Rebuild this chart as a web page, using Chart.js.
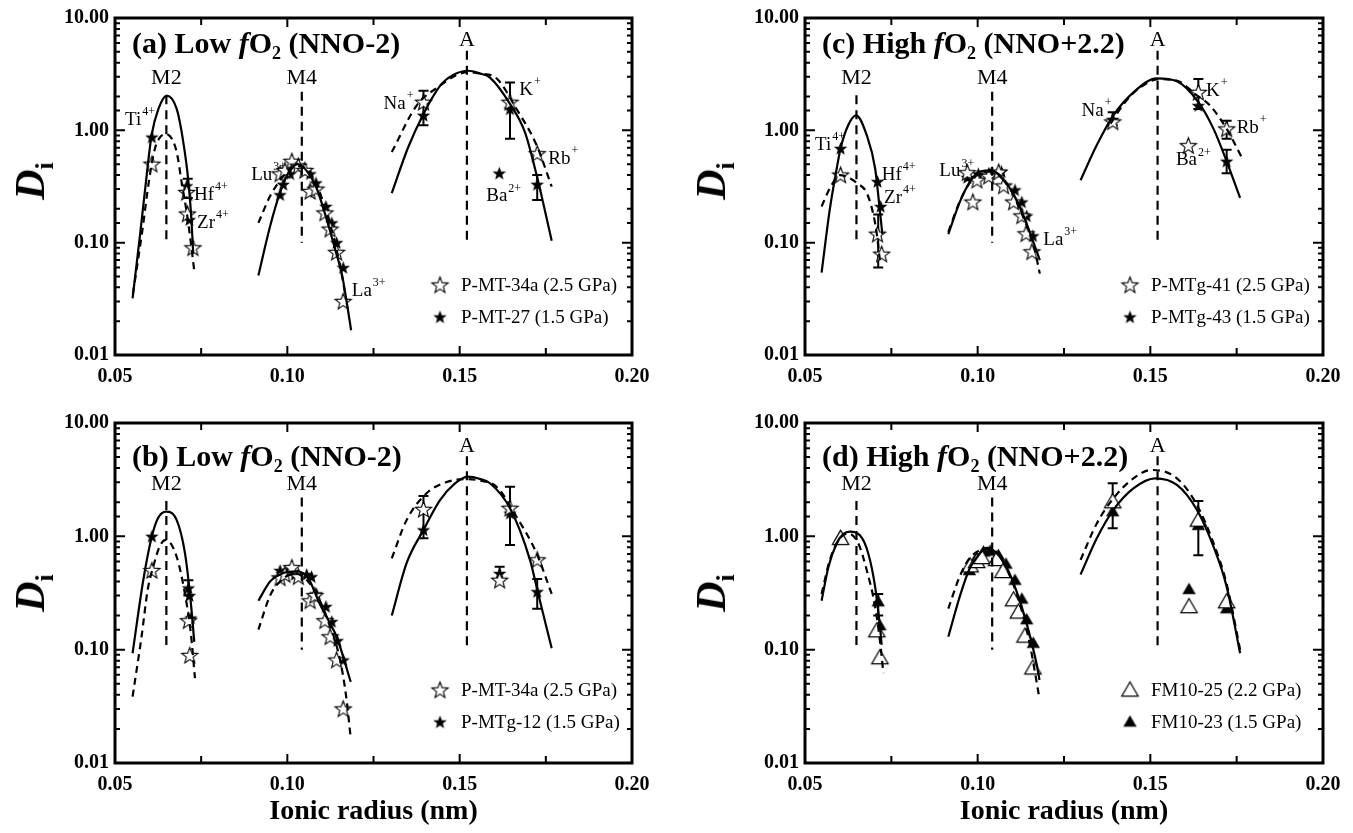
<!DOCTYPE html>
<html>
<head>
<meta charset="utf-8">
<script src="https://cdn.jsdelivr.net/npm/chart.js@4.4.1/dist/chart.umd.min.js"></script>
<style>
    body { margin: 0; background: #fff; width: 1353px; height: 833px; position: relative; overflow: hidden; font-family: 'Liberation Serif', 'Times New Roman', serif; color: #000; }
    canvas { position: absolute; }
    .ptitle { position: absolute; font-weight: bold; font-size: 30px; line-height: 30px; white-space: nowrap; }
    .ptitle .sb { font-size: 18px; position: relative; top: 6px; }
    .ytitle { position: absolute; font-weight: bold; font-style: italic; font-size: 42px; line-height: 42px; white-space: nowrap; transform: translate(-50%, -50%) rotate(-90deg); }
    .ytitle .sb { font-size: 26px; font-style: normal; position: relative; top: 9px; }
</style>
</head>
<body>
<canvas id="chart-a" width="676" height="400" style="left:0;top:0"></canvas>
<canvas id="chart-c" width="677" height="400" style="left:676px;top:0"></canvas>
<canvas id="chart-b" width="676" height="433" style="left:0;top:400px"></canvas>
<canvas id="chart-d" width="677" height="433" style="left:676px;top:400px"></canvas>

<div class="ptitle" style="left:132px;top:28px">(a) Low <i>f</i>O<span class="sb">2</span> (NNO-2)</div>
<div class="ptitle" style="left:132px;top:441px">(b) Low <i>f</i>O<span class="sb">2</span> (NNO-2)</div>
<div class="ptitle" style="left:822px;top:28px">(c) High <i>f</i>O<span class="sb">2</span> (NNO+2.2)</div>
<div class="ptitle" style="left:822px;top:441px">(d) High <i>f</i>O<span class="sb">2</span> (NNO+2.2)</div>

<div class="ytitle" style="left:33px;top:181px">D<span class="sb">i</span></div>
<div class="ytitle" style="left:33px;top:593px">D<span class="sb">i</span></div>
<div class="ytitle" style="left:714px;top:181px">D<span class="sb">i</span></div>
<div class="ytitle" style="left:714px;top:593px">D<span class="sb">i</span></div>

<script>
// --- AXES ---
const xTickLabels = ['0.05', '0.10', '0.15', '0.20'];
const yTickLabels = ['0.01', '0.10', '1.00', '10.00'];
const xTitle = 'Ionic radius (nm)';

// crystal sites: name, radius, dashed marker from top value down to 0.1
const siteNames = ['M2', 'M4', 'A'];
const siteR = [0.0649, 0.1042, 0.1521];
const siteTop = [2.05, 2.2, 5.1];
const siteBottom = 0.1;
const siteLabelY = [2.9, 2.9, 6.3];

// --- PANEL (a) Low fO2, P-MT-34a / P-MT-27 ---
const aNames = ['P-MT-34a (2.5 GPa)', 'P-MT-27 (1.5 GPa)'];
const aM2Solid = [[0.0551,0.032],[0.0573,0.12],[0.0592,0.40],[0.0606,0.90],[0.0626,1.55],[0.0650,2.04],[0.0679,1.55],[0.0698,0.79],[0.0713,0.35],[0.0722,0.155],[0.0727,0.079]];
const aM2Dash = [[0.0552,0.035],[0.0578,0.12],[0.0600,0.38],[0.0616,0.69],[0.0630,0.86],[0.0647,0.93],[0.0665,0.84],[0.0680,0.62],[0.0693,0.35],[0.0710,0.17],[0.0720,0.10],[0.0730,0.056]];
const aM4Solid = [[0.0916,0.051],[0.0950,0.14],[0.0979,0.28],[0.1005,0.43],[0.1030,0.50],[0.1055,0.44],[0.1085,0.305],[0.1105,0.20],[0.1124,0.127],[0.1142,0.08],[0.1158,0.053],[0.1172,0.03],[0.1185,0.0166]];
const aM4Dash = [[0.0916,0.15],[0.0950,0.26],[0.0979,0.36],[0.1005,0.45],[0.1028,0.48],[0.1055,0.45],[0.1085,0.33],[0.1110,0.20],[0.1135,0.11],[0.1155,0.058],[0.1170,0.032]];
const aASolid = [[0.1303,0.276],[0.1350,0.70],[0.1395,1.40],[0.1443,2.49],[0.1480,3.1],[0.1525,3.39],[0.1560,3.2],[0.1588,2.95],[0.1646,1.72],[0.1690,0.95],[0.1725,0.38],[0.1767,0.104]];
const aADash = [[0.1303,0.64],[0.1375,1.66],[0.1443,2.5],[0.1490,3.1],[0.1525,3.3],[0.1560,3.2],[0.1607,2.9],[0.1665,1.55],[0.1723,0.74],[0.1767,0.316]];
const aOpen = [[0.0607,0.50],[0.0708,0.28],[0.0710,0.18],[0.0726,0.090],
    [0.0979,0.41],[0.0993,0.44],[0.1013,0.53],[0.1032,0.48],[0.1051,0.44],[0.1066,0.286],[0.1083,0.30],[0.1109,0.184],[0.1124,0.132],[0.1143,0.082],[0.1162,0.030],
    [0.1395,1.78],[0.1646,1.78],[0.1725,0.62]];
const aFilled = [[0.0607,0.87],[0.0708,0.32],[0.0716,0.16],
    [0.0979,0.267],[0.0988,0.33],[0.1008,0.41],[0.1032,0.49],[0.1066,0.41],[0.1083,0.34],[0.1112,0.21],[0.1129,0.15],[0.1143,0.10],[0.1162,0.06],
    [0.1395,1.36],[0.1646,1.55],[0.1725,0.33],[0.1615,0.415]];
const aErr = [[0.0711,0.25,0.37],[0.1395,1.11,2.25],[0.1646,0.84,2.67],[0.1725,0.24,0.40]];
const aIons = [['Ti','4+',0.0529,1.23],['Hf','4+',0.0729,0.268],['Zr','4+',0.0738,0.149],['Lu','3+',0.0895,0.40],['La','3+',0.1187,0.0375],
    ['Na','+',0.1279,1.72],['K','+',0.1673,2.30],['Rb','+',0.1757,0.56],['Ba','2+',0.1577,0.258]];

// --- PANEL (b) Low fO2, P-MT-34a / P-MTg-12 ---
const bNames = ['P-MT-34a (2.5 GPa)', 'P-MTg-12 (1.5 GPa)'];
const bM2Solid = [[0.0551,0.093],[0.0582,0.41],[0.0607,1.0],[0.0625,1.45],[0.0648,1.65],[0.0679,1.39],[0.0703,0.71],[0.0720,0.26],[0.0730,0.117]];
const bM2Dash = [[0.0551,0.0385],[0.0577,0.13],[0.0595,0.34],[0.0611,0.54],[0.0630,0.82],[0.0648,0.93],[0.0679,0.66],[0.0703,0.31],[0.0720,0.14],[0.0732,0.056]];
const bM4Solid = [[0.0916,0.27],[0.0950,0.40],[0.0985,0.47],[0.1027,0.49],[0.1060,0.43],[0.1095,0.25],[0.1120,0.18],[0.1143,0.13],[0.1184,0.052]];
const bM4Dash = [[0.0916,0.15],[0.0950,0.30],[0.0979,0.40],[0.1022,0.47],[0.1066,0.38],[0.1114,0.195],[0.1153,0.081],[0.1170,0.04],[0.1184,0.0165]];
const bASolid = [[0.1303,0.20],[0.1346,0.58],[0.1395,1.14],[0.1443,2.09],[0.1485,2.9],[0.1523,3.36],[0.1560,3.2],[0.1588,2.94],[0.1646,1.77],[0.1704,0.62],[0.1728,0.31],[0.1767,0.103]];
const bADash = [[0.1303,0.64],[0.1346,1.39],[0.1404,2.40],[0.1460,3.0],[0.1520,3.2],[0.1560,3.1],[0.1607,2.74],[0.1665,1.49],[0.1723,0.71],[0.1767,0.31]];
const bOpen = [[0.0607,0.50],[0.0713,0.18],[0.0717,0.089],
    [0.0979,0.43],[0.0993,0.46],[0.1013,0.53],[0.1032,0.44],[0.1066,0.27],[0.1080,0.30],[0.1109,0.18],[0.1124,0.13],[0.1143,0.081],[0.1162,0.030],
    [0.1395,1.73],[0.1646,1.77],[0.1725,0.62],[0.1616,0.41]];
const bFilled = [[0.0607,1.0],[0.0713,0.35],[0.0716,0.30],[0.0720,0.19],
    [0.0979,0.50],[0.1003,0.50],[0.1022,0.46],[0.1056,0.46],[0.1070,0.44],[0.1085,0.31],[0.1112,0.24],[0.1129,0.177],[0.1145,0.12],[0.1162,0.081],
    [0.1395,1.14],[0.1646,1.6],[0.1725,0.325],[0.1616,0.47]];
const bErr = [[0.0713,0.30,0.41],[0.1395,0.96,2.27],[0.1646,0.84,2.74],[0.1725,0.23,0.42],[0.1616,0.41,0.54]];
const bIons = [];

// --- PANEL (c) High fO2, P-MTg-41 / P-MTg-43 ---
const cNames = ['P-MTg-41 (2.5 GPa)', 'P-MTg-43 (1.5 GPa)'];
const cM2Solid = [[0.0548,0.054],[0.0572,0.20],[0.0592,0.46],[0.0603,0.69],[0.0625,1.11],[0.0648,1.36],[0.0679,0.90],[0.0703,0.46],[0.0714,0.233],[0.0724,0.119]];
const cM2Dash = [[0.0548,0.21],[0.0572,0.305],[0.0601,0.40],[0.0625,0.38],[0.0650,0.34],[0.0679,0.276],[0.0698,0.178],[0.0708,0.119],[0.0717,0.069]];
const cM4Solid = [[0.0915,0.119],[0.0949,0.233],[0.0978,0.35],[0.1007,0.43],[0.1041,0.44],[0.1075,0.36],[0.1104,0.27],[0.1133,0.173],[0.1157,0.11],[0.1180,0.070]];
const cM4Dash = [[0.0915,0.125],[0.0950,0.24],[0.0980,0.35],[0.1010,0.42],[0.1040,0.43],[0.1075,0.37],[0.1105,0.26],[0.1135,0.16],[0.1160,0.10],[0.1180,0.053]];
const cASolid = [[0.1298,0.36],[0.1345,0.74],[0.1393,1.36],[0.1451,2.18],[0.1519,2.9],[0.1577,2.73],[0.1639,1.78],[0.1683,1.03],[0.1721,0.53],[0.1760,0.25]];
const cADash = [[0.1385,1.15],[0.1425,1.75],[0.1470,2.4],[0.1525,2.85],[0.1580,2.75],[0.1630,2.1],[0.1673,1.66],[0.1721,1.03],[0.1764,0.58]];
const cOpen = [[0.0603,0.40],[0.0710,0.119],[0.0722,0.079],
    [0.0970,0.42],[0.0986,0.23],[0.0998,0.36],[0.1032,0.39],[0.1061,0.425],[0.1075,0.32],[0.1104,0.23],[0.1128,0.173],[0.1140,0.12],[0.1157,0.083],
    [0.1391,1.19],[0.1639,2.18],[0.1721,1.03],[0.1610,0.73]];
const cFilled = [[0.0603,0.69],[0.0710,0.35],[0.0719,0.21],
    [0.0970,0.38],[0.1002,0.41],[0.1036,0.41],[0.1069,0.43],[0.1108,0.295],[0.1128,0.23],[0.1142,0.173],[0.1160,0.115],
    [0.1391,1.25],[0.1639,1.66],[0.1721,0.53],[0.1610,0.73]];
const cErr = [[0.0712,0.060,0.178],[0.1391,1.11,1.45],[0.1639,1.55,2.86],[0.1721,0.84,1.22],[0.1721,0.415,0.67]];
const cIons = [['Ti','4+',0.0529,0.74],['Hf','4+',0.0722,0.40],['Zr','4+',0.0729,0.25],['Lu','3+',0.0889,0.43],['La','3+',0.1190,0.105],
    ['Na','+',0.1301,1.50],['K','+',0.1661,2.25],['Rb','+',0.1750,1.05],['Ba','2+',0.1574,0.54]];

// --- PANEL (d) High fO2, FM10-25 / FM10-23 ---
const dNames = ['FM10-25 (2.2 GPa)', 'FM10-23 (1.5 GPa)'];
const dM2Solid = [[0.0548,0.27],[0.0568,0.54],[0.0592,0.87],[0.0610,1.04],[0.0630,1.10],[0.0659,1.02],[0.0683,0.71],[0.0703,0.36],[0.0717,0.16],[0.0722,0.11]];
const dM2Dash = [[0.0548,0.31],[0.0572,0.62],[0.0601,0.96],[0.0625,1.06],[0.0654,0.87],[0.0679,0.50],[0.0703,0.24],[0.0717,0.12],[0.0727,0.062]];
const dM4Solid = [[0.0915,0.13],[0.0949,0.30],[0.0978,0.53],[0.1007,0.71],[0.1026,0.79],[0.1055,0.71],[0.1084,0.53],[0.1113,0.325],[0.1142,0.169],[0.1171,0.074],[0.1179,0.054]];
const dM4Dash = [[0.0915,0.23],[0.0949,0.45],[0.0978,0.65],[0.1026,0.77],[0.1064,0.68],[0.1093,0.45],[0.1122,0.255],[0.1151,0.112],[0.1179,0.037]];
const dASolid = [[0.1298,0.46],[0.1345,0.96],[0.1393,1.71],[0.1451,2.65],[0.1514,3.25],[0.1577,2.84],[0.1635,1.71],[0.1683,0.81],[0.1721,0.36],[0.1760,0.093]];
const dADash = [[0.1298,0.62],[0.1345,1.30],[0.1393,2.16],[0.1451,3.25],[0.1504,3.85],[0.1577,3.25],[0.1635,1.89],[0.1683,0.87],[0.1721,0.38],[0.1760,0.10]];
const dOpen = [[0.0603,0.96],[0.0708,0.147],[0.0717,0.085],
    [0.0978,0.55],[0.0997,0.60],[0.1012,0.65],[0.1055,0.625],[0.1073,0.49],[0.1104,0.276],[0.1118,0.215],[0.1137,0.132],[0.1160,0.069],
    [0.1391,2.02],[0.1639,1.39],[0.1612,0.24],[0.1721,0.265]];
const dFilled = [[0.0603,1.0],[0.0712,0.265],[0.0717,0.163],
    [0.0976,0.50],[0.0997,0.65],[0.1017,0.73],[0.1036,0.74],[0.1060,0.68],[0.1082,0.57],[0.1108,0.41],[0.1128,0.28],[0.1142,0.184],[0.1161,0.114],
    [0.1391,1.65],[0.1639,1.25],[0.1612,0.34],[0.1721,0.23]];
const dErr = [[0.0712,0.20,0.31],[0.1391,1.18,2.94],[0.1639,0.68,2.05]];
const dIons = [];

// --- MARKERS ---
function makeStar(R, filled) {
    const s = Math.ceil(2 * R + 4);
    const c = document.createElement('canvas');
    c.width = s; c.height = s;
    const g = c.getContext('2d');
    g.translate(s / 2, s / 2 + 0.5);
    g.beginPath();
    for (let i = 0; i < 10; i++) {
        const r = i % 2 ? R * 0.42 : R;
        const a = -Math.PI / 2 + i * Math.PI / 5;
        g.lineTo(r * Math.cos(a), r * Math.sin(a));
    }
    g.closePath();
    g.fillStyle = filled ? '#000' : '#fff';
    g.fill();
    g.lineWidth = 1.1;
    g.strokeStyle = '#000';
    g.stroke();
    return c;
}

function makeTriangle(R, filled) {
    const s = Math.ceil(2 * R + 4);
    const c = document.createElement('canvas');
    c.width = s; c.height = s;
    const g = c.getContext('2d');
    g.translate(s / 2, s / 2 + R * 0.15);
    g.beginPath();
    for (let i = 0; i < 3; i++) {
        const a = -Math.PI / 2 + i * 2 * Math.PI / 3;
        g.lineTo(R * Math.cos(a), R * Math.sin(a));
    }
    g.closePath();
    g.fillStyle = filled ? '#000' : '#fff';
    g.fill();
    g.lineWidth = 1.2;
    g.strokeStyle = '#000';
    g.stroke();
    return c;
}

const starOpen = makeStar(8.5, false);
const starFilled = makeStar(5.5, true);
const triOpen = makeTriangle(9.5, false);
const triFilled = makeTriangle(6.5, true);

// --- HELPERS ---
const toPts = arr => arr.map(([x, y]) => ({ x, y }));
const SERIF = "'Liberation Serif', 'Times New Roman', serif";

function drawIon(ctx, x, y, base, sup) {
    ctx.font = `19px ${SERIF}`;
    ctx.textAlign = 'left';
    ctx.textBaseline = 'middle';
    ctx.fillText(base, x, y);
    const w = ctx.measureText(base).width;
    ctx.font = `12px ${SERIF}`;
    ctx.fillText(sup, x + w + 1, y - 8);
}

// decorations: error bars, inward ticks, frame, labels, legend
function decorPlugin(p) {
    return {
        id: 'decor',
        beforeDatasetsDraw(chart) {
            const { ctx, scales: { x, y } } = chart;
            ctx.save();
            ctx.strokeStyle = '#000';
            ctx.lineWidth = 2;
            p.errors.forEach(([r, lo, hi]) => {
                const px = x.getPixelForValue(r);
                const p1 = y.getPixelForValue(lo);
                const p2 = y.getPixelForValue(hi);
                ctx.beginPath();
                ctx.moveTo(px, p1); ctx.lineTo(px, p2);
                ctx.moveTo(px - 5, p1); ctx.lineTo(px + 5, p1);
                ctx.moveTo(px - 5, p2); ctx.lineTo(px + 5, p2);
                ctx.stroke();
            });
            ctx.restore();
        },
        afterDraw(chart) {
            const { ctx, chartArea: area, scales: { x, y } } = chart;
            ctx.save();
            ctx.strokeStyle = '#000';
            ctx.fillStyle = '#000';

            // inward ticks on all four sides
            ctx.lineWidth = 2;
            ctx.beginPath();
            x.ticks.forEach(t => {
                const px = x.getPixelForValue(t.value);
                const len = t.label ? 9 : 7;
                ctx.moveTo(px, area.bottom); ctx.lineTo(px, area.bottom - len);
                ctx.moveTo(px, area.top); ctx.lineTo(px, area.top + len);
            });
            y.ticks.forEach(t => {
                const py = y.getPixelForValue(t.value);
                const len = t.label ? 10 : 5;
                ctx.moveTo(area.left, py); ctx.lineTo(area.left + len, py);
                ctx.moveTo(area.right, py); ctx.lineTo(area.right - len, py);
            });
            ctx.stroke();

            ctx.lineWidth = 3;
            ctx.strokeRect(area.left, area.top, area.right - area.left, area.bottom - area.top);

            // site names above the dashed markers
            ctx.font = `22px ${SERIF}`;
            ctx.textAlign = 'center';
            ctx.textBaseline = 'middle';
            siteNames.forEach((n, i) => {
                ctx.fillText(n, x.getPixelForValue(siteR[i]), y.getPixelForValue(siteLabelY[i]));
            });

            // ion labels
            p.ions.forEach(([base, sup, r, v]) => {
                drawIon(ctx, x.getPixelForValue(r), y.getPixelForValue(v), base, sup);
            });

            // legend
            const lx = area.left + 325;
            [p.openImg, p.fillImg].forEach((img, i) => {
                const ly = area.top + 267 + i * 32;
                ctx.drawImage(img, lx - img.width / 2, ly - img.height / 2);
                ctx.font = `19px ${SERIF}`;
                ctx.textAlign = 'left';
                ctx.textBaseline = 'middle';
                ctx.fillText(p.names[i], lx + 21, ly + 1);
            });
            ctx.restore();
        }
    };
}

// --- CHART BUILDER ---
function buildPanel(canvasId, p) {
    const datasets = [];
    siteR.forEach((r, i) => {
        datasets.push({
            data: [{ x: r, y: siteTop[i] }, { x: r, y: siteBottom }],
            showLine: true, borderColor: '#000', borderWidth: 2.2, borderDash: [9, 6], pointRadius: 0
        });
    });
    p.solid.forEach(c => datasets.push({
        data: toPts(c), showLine: true, borderColor: '#000', borderWidth: 2.2,
        pointRadius: 0, cubicInterpolationMode: 'monotone'
    }));
    p.dashed.forEach(c => datasets.push({
        data: toPts(c), showLine: true, borderColor: '#000', borderWidth: 2.2, borderDash: [7, 5],
        pointRadius: 0, cubicInterpolationMode: 'monotone'
    }));
    datasets.push({ data: toPts(p.open), pointStyle: p.openImg, pointRadius: 8, showLine: false });
    datasets.push({ data: toPts(p.filled), pointStyle: p.fillImg, pointRadius: 6, showLine: false });

    new Chart(document.getElementById(canvasId), {
        type: 'scatter',
        data: { datasets },
        options: {
            responsive: false,
            animation: false,
            devicePixelRatio: 1,
            events: [],
            layout: { padding: { left: 0, top: p.padTop, right: p.padRight, bottom: 0 } },
            plugins: { legend: { display: false }, tooltip: { enabled: false } },
            scales: {
                x: {
                    type: 'linear', min: 0.05, max: 0.2,
                    grid: { display: false, drawTicks: false },
                    border: { display: false },
                    ticks: {
                        stepSize: 0.025, autoSkip: false, maxRotation: 0, padding: 10,
                        color: '#000', font: { family: SERIF, size: 20, weight: 'bold' },
                        callback: v => {
                            const k = Math.round((v - 0.05) / 0.025);
                            return k % 2 === 0 ? xTickLabels[k / 2] : '';
                        }
                    },
                    title: {
                        display: p.showXTitle, text: xTitle, color: '#000',
                        font: { family: SERIF, size: 28, weight: 'bold' }
                    },
                    afterFit: s => { s.height = p.xH; }
                },
                y: {
                    type: 'logarithmic', min: 0.01, max: 10,
                    grid: { display: false, drawTicks: false },
                    border: { display: false },
                    ticks: {
                        autoSkip: false, padding: 6,
                        color: '#000', font: { family: SERIF, size: 20, weight: 'bold' },
                        callback: v => {
                            const lg = Math.log10(v);
                            return Math.abs(lg - Math.round(lg)) < 1e-6 ? yTickLabels[Math.round(lg) + 2] : '';
                        }
                    },
                    afterFit: s => { s.width = p.yW; }
                }
            }
        },
        plugins: [decorPlugin(p)]
    });
}

// --- INITIALIZATION ---
buildPanel('chart-a', {
    solid: [aM2Solid, aM4Solid, aASolid], dashed: [aM2Dash, aM4Dash, aADash],
    open: aOpen, filled: aFilled, errors: aErr, ions: aIons, names: aNames,
    openImg: starOpen, fillImg: starFilled,
    padTop: 15, padRight: 44, yW: 115, xH: 45, showXTitle: false
});
buildPanel('chart-b', {
    solid: [bM2Solid, bM4Solid, bASolid], dashed: [bM2Dash, bM4Dash, bADash],
    open: bOpen, filled: bFilled, errors: bErr, ions: bIons, names: bNames,
    openImg: starOpen, fillImg: starFilled,
    padTop: 23, padRight: 44, yW: 115, xH: 70, showXTitle: true
});
buildPanel('chart-c', {
    solid: [cM2Solid, cM4Solid, cASolid], dashed: [cM2Dash, cM4Dash, cADash],
    open: cOpen, filled: cFilled, errors: cErr, ions: cIons, names: cNames,
    openImg: starOpen, fillImg: starFilled,
    padTop: 15, padRight: 30, yW: 129, xH: 45, showXTitle: false
});
buildPanel('chart-d', {
    solid: [dM2Solid, dM4Solid, dASolid], dashed: [dM2Dash, dM4Dash, dADash],
    open: dOpen, filled: dFilled, errors: dErr, ions: dIons, names: dNames,
    openImg: triOpen, fillImg: triFilled,
    padTop: 23, padRight: 30, yW: 129, xH: 70, showXTitle: true
});
</script>
</body>
</html>
